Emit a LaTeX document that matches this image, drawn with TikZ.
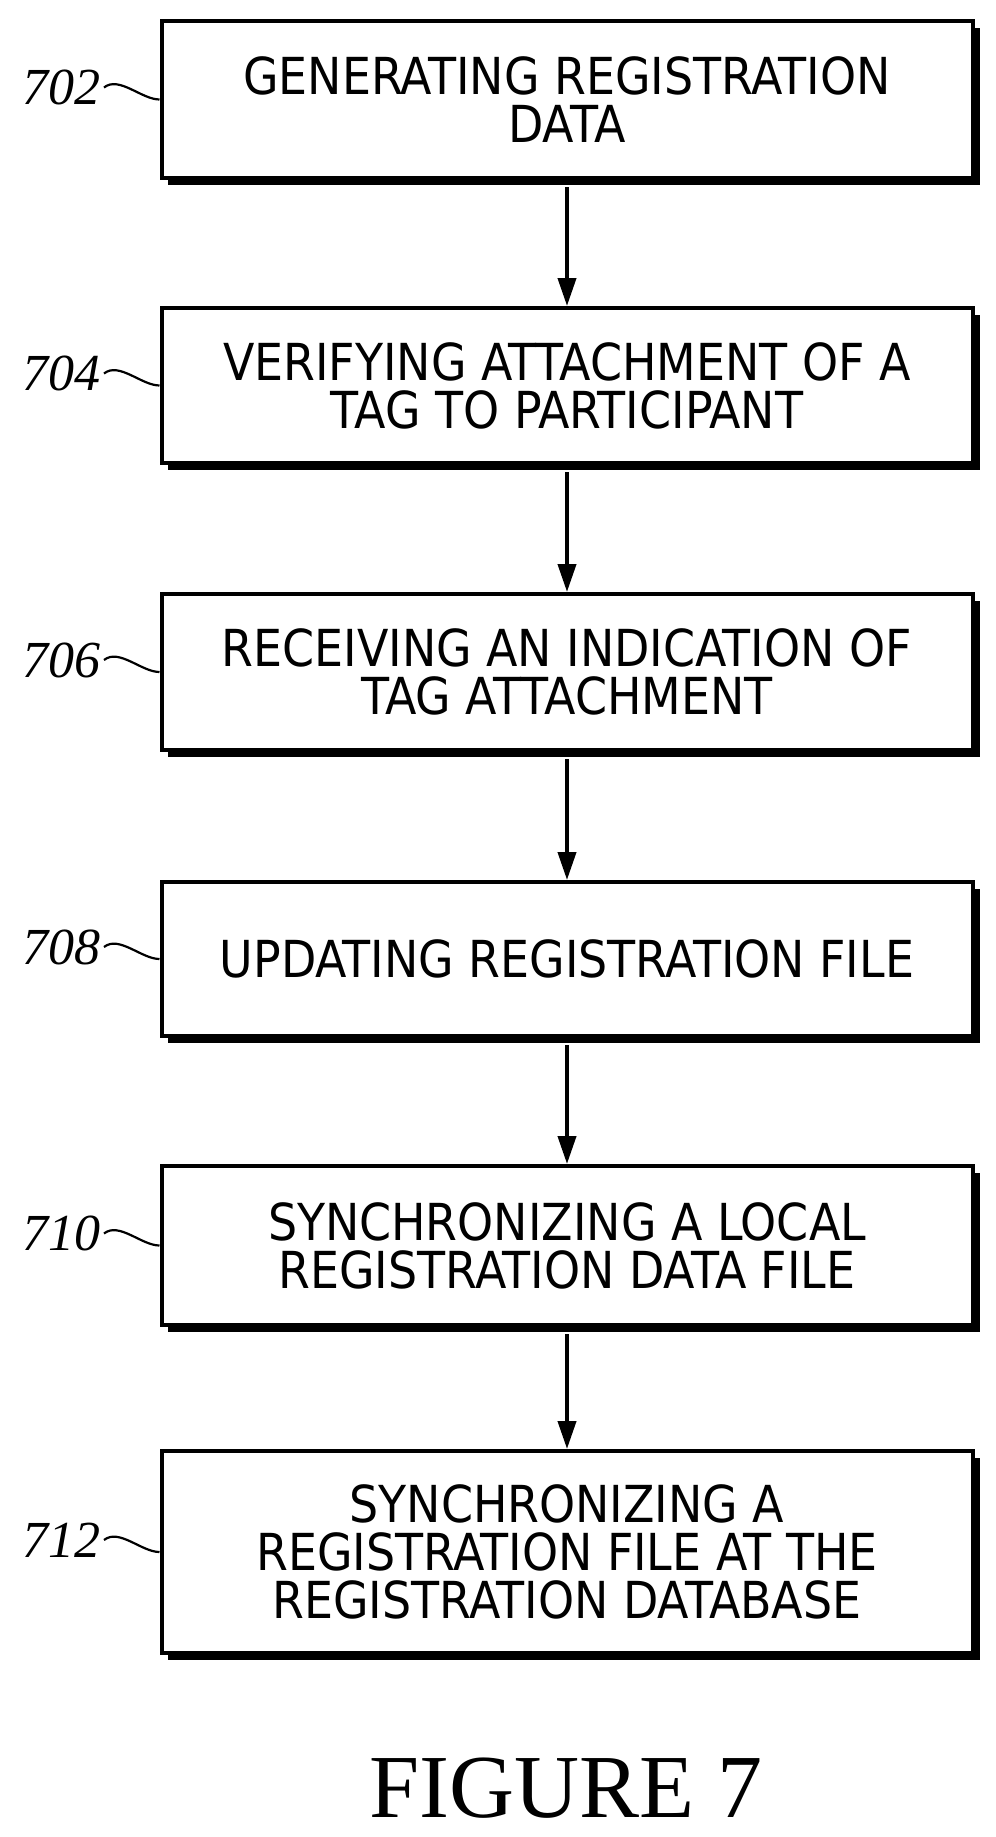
\documentclass[tikz,border=0pt]{standalone}
\usepackage{fontspec}
\setmainfont{Liberation Serif}
\newfontfamily\boxfont{DejaVu Sans Condensed}
\usetikzlibrary{arrows.meta}
\begin{document}
\begin{tikzpicture}[x=1pt,y=-1pt,
  box/.style={draw,line width=4pt,fill=white,minimum width=811pt,align=center,
    font=\boxfont\fontsize{51}{48}\selectfont,inner sep=0pt},
  shadow/.style={fill=black},
  lab/.style={font=\itshape\fontsize{52}{52}\selectfont,anchor=east},
  arr/.style={line width=4pt,-{Triangle[length=28pt,width=18pt]}}]
\useasboundingbox (0,0) rectangle (996,1837);
\foreach \n/\t/\b/\txt/\num in {
  a/21/178/{GENERATING REGISTRATION\\DATA}/702,
  b/308/463/{VERIFYING ATTACHMENT OF A\\TAG TO PARTICIPANT}/704,
  c/594/750/{RECEIVING AN INDICATION OF\\TAG ATTACHMENT}/706,
  d/882/1036/{UPDATING REGISTRATION FILE}/708,
  e/1166/1325/{SYNCHRONIZING A LOCAL\\REGISTRATION DATA FILE}/710,
  f/1451/1653/{SYNCHRONIZING A\\REGISTRATION FILE AT THE\\REGISTRATION DATABASE}/712}{
  \fill[shadow] (168,\t+7) rectangle (980,\b+7);
  \node[box,minimum height={\b-\t}] (\n) at (567,{(\t+\b)/2}) {\txt};
  \node[lab] (l\n) at (104,{(\t+\b)/2-12}) {\num};
  \draw[line width=2.2pt] (l\n.east) .. controls +(15,-12) and +(-18,0) .. (\n.west);
}
\foreach \a/\b in {a/b,b/c,c/d,d/e,e/f}
  \draw[arr] (\a.south) ++(0,7) -- (\b.north);
\node[font=\fontsize{90}{90}\selectfont] (fig) at (566,1788) {FIGURE 7};
\end{tikzpicture}
\end{document}
